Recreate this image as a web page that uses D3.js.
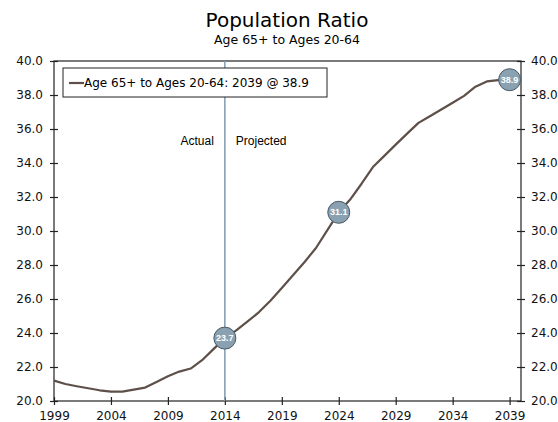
<!DOCTYPE html>
<head>
<style>
  body { margin: 0; background: #fff; }
  text { font-family: "DejaVu Sans", Verdana, sans-serif; }
</style>
</head>
<body>
<svg width="558" height="422"></svg>
<script src="https://d3js.org/d3.v7.min.js"></script>
<script>

var years = d3.range(1999, 2040);
var ratio = [21.2, 21.0, 20.87, 20.75, 20.63, 20.55, 20.55, 20.67, 20.79, 21.12,
             21.45, 21.73, 21.91, 22.4, 23.05, 23.7, 24.15, 24.68, 25.23, 25.9,
             26.65, 27.41, 28.18, 29.0, 30.05, 31.1, 31.85, 32.78, 33.76, 34.42,
             35.08, 35.73, 36.36, 36.75, 37.15, 37.54, 37.95, 38.49, 38.8, 38.88, 38.9];
var xTicks = [1999, 2004, 2009, 2014, 2019, 2024, 2029, 2034, 2039];
var yTicks = [20, 22, 24, 26, 28, 30, 32, 34, 36, 38, 40];
var markedYears = [2014, 2024, 2039];
var splitYear = 2014;
var seriesName = "Age 65+ to Ages 20-64";

var data = years.map(function(y, i) { return {year: y, value: ratio[i]}; });

var svg = d3.select("svg"),
    margin = {top: 61, right: 37, bottom: 21, left: 54},
    width = +svg.attr("width") - margin.left - margin.right,
    height = +svg.attr("height") - margin.top - margin.bottom,
    g = svg.append("g").attr("transform", "translate(" + margin.left + "," + margin.top + ")");

var x = d3.scaleLinear().domain([1999, 2040]).range([0, width]);
var y = d3.scaleLinear().domain([20, 40]).range([height, 0]);

// titles
svg.append("text").attr("x", 287).attr("y", 27).attr("text-anchor", "middle")
    .style("font-size", "20px").text("Population Ratio");
svg.append("text").attr("x", 287).attr("y", 44).attr("text-anchor", "middle")
    .style("font-size", "12.5px").text(seriesName);

// frame
g.append("rect").attr("width", width).attr("height", height)
    .attr("fill", "none").attr("stroke", "#222").attr("stroke-width", 1.2);

// axes, ticks crossing the frame line
var fmt = d3.format(".1f");
function crossTicks(sel) {
  sel.select(".domain").remove();
  sel.selectAll(".tick line").attr("stroke", "#222").attr("stroke-width", 1.2);
  sel.selectAll(".tick text").style("font-size", "12px").attr("fill", "#111")
     .style("font-family", "DejaVu Sans, Verdana, sans-serif");
}
var yl = g.append("g").call(d3.axisLeft(y).tickValues(yTicks).tickFormat(fmt).tickSize(4).tickPadding(7));
crossTicks(yl);
yl.selectAll(".tick line").attr("x1", 4).attr("x2", -4);

var yr = g.append("g").attr("transform", "translate(" + width + ",0)")
    .call(d3.axisRight(y).tickValues(yTicks).tickFormat(fmt).tickSize(4).tickPadding(6));
crossTicks(yr);
yr.selectAll(".tick line").attr("x1", -4).attr("x2", 4);

var xa = g.append("g").attr("transform", "translate(0," + height + ")")
    .call(d3.axisBottom(x).tickValues(xTicks).tickFormat(d3.format("d")).tickSize(4).tickPadding(6));
crossTicks(xa);
xa.selectAll(".tick line").attr("y1", -4).attr("y2", 4);

// actual / projected divider
g.append("line").attr("x1", x(splitYear)).attr("x2", x(splitYear))
    .attr("y1", 0).attr("y2", height).attr("stroke", "#7f9cb0").attr("stroke-width", 1.5);
g.append("text").attr("x", x(splitYear) - 11).attr("y", 84).attr("text-anchor", "end")
    .style("font-family", "Liberation Sans, Arial, sans-serif").style("font-size", "12px").text("Actual");
g.append("text").attr("x", x(splitYear) + 11).attr("y", 84)
    .style("font-family", "Liberation Sans, Arial, sans-serif").style("font-size", "12px").text("Projected");

// series line
var line = d3.line()
    .x(function(d) { return x(d.year); })
    .y(function(d) { return y(d.value); });
g.append("path").datum(data)
    .attr("fill", "none").attr("stroke", "#5e5048").attr("stroke-width", 2.2)
    .attr("stroke-linejoin", "round").attr("d", line);

// marker bubbles
var marks = g.selectAll(".mark").data(data.filter(function(d) { return markedYears.indexOf(d.year) >= 0; }))
  .enter().append("g").attr("class", "mark")
    .attr("transform", function(d) { return "translate(" + x(d.year) + "," + y(d.value) + ")"; });
marks.append("circle").attr("r", 11).attr("fill", "#8aa1b1").attr("stroke", "#4b5a66").attr("stroke-width", 1);
marks.append("text").attr("text-anchor", "middle").attr("dy", "0.35em")
    .attr("fill", "#fff").style("font-size", "9px").style("font-weight", "bold")
    .style("font-family", "Liberation Sans, Arial, sans-serif")
    .text(function(d) { return fmt(d.value); });

// legend
var last = data[data.length - 1];
var leg = g.append("g").attr("transform", "translate(9,7)");
leg.append("rect").attr("width", 264).attr("height", 29)
    .attr("fill", "#fff").attr("stroke", "#222").attr("stroke-width", 1);
leg.append("line").attr("x1", 6).attr("x2", 21).attr("y1", 15).attr("y2", 15)
    .attr("stroke", "#5e5048").attr("stroke-width", 2.2);
leg.append("text").attr("x", 21).attr("y", 15).attr("dy", "0.35em").style("font-size", "12px")
    .text(seriesName + ": " + last.year + " @ " + fmt(last.value));

</script>
</body>
